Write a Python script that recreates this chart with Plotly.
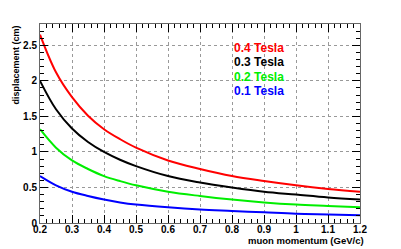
import plotly.graph_objects as go

momentum = [0.2, 0.25, 0.3, 0.35, 0.4, 0.45, 0.5, 0.6, 0.7, 0.8, 0.9, 1.0, 1.1, 1.2]
disp_04 = [2.65, 2.12, 1.77, 1.51, 1.32, 1.18, 1.06, 0.88, 0.76, 0.66, 0.59, 0.53, 0.48, 0.44]
disp_03 = [2.00, 1.60, 1.33, 1.14, 1.00, 0.89, 0.80, 0.66, 0.57, 0.50, 0.44, 0.40, 0.36, 0.33]
disp_02 = [1.32, 1.06, 0.88, 0.76, 0.66, 0.59, 0.53, 0.44, 0.38, 0.33, 0.29, 0.26, 0.24, 0.22]
disp_01 = [0.66, 0.53, 0.44, 0.38, 0.33, 0.29, 0.26, 0.22, 0.19, 0.17, 0.15, 0.13, 0.12, 0.11]

series = [
    ("0.4 Tesla", disp_04, "#ff0000"),
    ("0.3 Tesla", disp_03, "#000000"),
    ("0.2 Tesla", disp_02, "#00ee00"),
    ("0.1 Tesla", disp_01, "#0000ff"),
]

fig = go.Figure()
for name, ys, col in series:
    fig.add_trace(go.Scatter(x=momentum, y=ys, mode="lines", name=name,
                             line=dict(color=col, width=2, shape="spline"),
                             showlegend=False))

font_family = "Liberation Sans, Arial, sans-serif"
legend_y = [0.879, 0.809, 0.736, 0.664]
for (name, ys, col), ly in zip(series, legend_y):
    fig.add_annotation(x=0.6, y=ly, xref="paper", yref="paper", text=name,
                       showarrow=False, xanchor="left", yanchor="middle",
                       font=dict(family=font_family, size=12, color=col, weight="bold"))

fig.add_annotation(x=-0.078, y=1.0, xref="paper", yref="paper", text="displacement (cm)",
                   textangle=-90, showarrow=False, xanchor="center", yanchor="top",
                   font=dict(family=font_family, size=9, color="black", weight="bold"))
fig.add_annotation(x=1.019, y=-0.087, xref="paper", yref="paper", text="muon momentum (GeV/c)",
                   showarrow=False, xanchor="right", yanchor="middle",
                   font=dict(family=font_family, size=9.5, color="black", weight="bold"))

axis_common = dict(
    showline=True, linecolor="#666666", linewidth=1, mirror="allticks",
    ticks="inside", ticklen=8, tickcolor="black", tickwidth=1,
    showgrid=True, gridcolor="#999999", griddash="dot", gridwidth=1,
    zeroline=False,
    tickfont=dict(family=font_family, size=10, color="black", weight="bold"),
)

fig.update_xaxes(range=[0.2, 1.2], dtick=0.1, tick0=0.2, ticklabelstandoff=-3,
                 minor=dict(ticks="inside", dtick=0.02, ticklen=4, tickcolor="black", showgrid=False),
                 **axis_common)
fig.update_yaxes(range=[0, 2.8], dtick=0.5, tick0=0,
                 minor=dict(ticks="inside", dtick=0.1, ticklen=4, tickcolor="black", showgrid=False),
                 **axis_common)

fig.update_layout(width=401, height=249, margin=dict(l=40, r=41, t=24, b=26),
                  plot_bgcolor="white", paper_bgcolor="white")

fig.write_html("out.html", config={"displayModeBar": False},
               post_script="document.body.style.margin='0';document.body.style.overflow='hidden';")
